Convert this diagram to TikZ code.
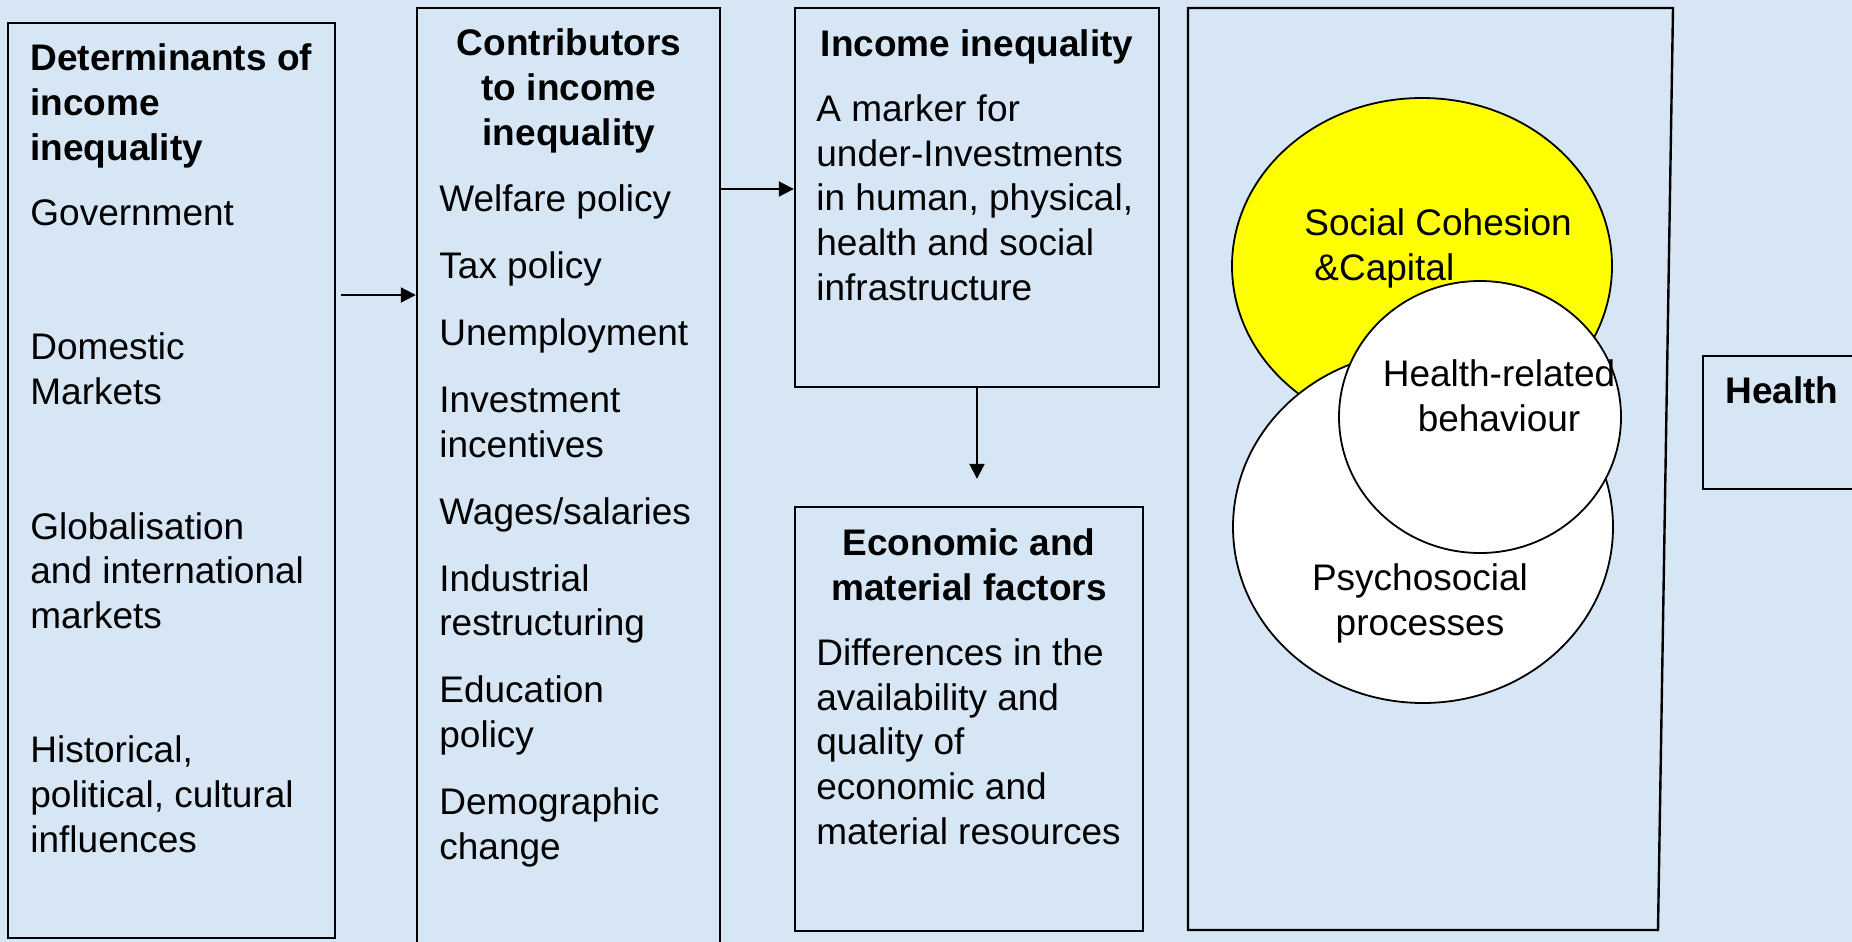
\documentclass[tikz,border=0pt]{standalone}
\usepackage{fontspec}
\setmainfont{Liberation Sans}
\usetikzlibrary{arrows.meta}
\definecolor{bgblue}{RGB}{215,230,245}
\definecolor{cohesionyellow}{RGB}{255,255,0}
\newcommand{\boxfont}{\fontsize{18.5pt}{22.3pt}\selectfont}

\begin{document}
\begin{tikzpicture}[x=0.5pt, y=-0.5pt]
    \tikzset{box/.style={draw, line width=1.2pt, inner sep=0pt},
        head/.style={font=\boxfont\bfseries, align=center, anchor=base, inner sep=0pt},
        body/.style={font=\boxfont, align=left, anchor=base west, inner sep=0pt},
        blob/.style={draw, line width=0.9pt},
        arr/.style={-{Triangle[length=7.5pt, width=7.5pt]}, line width=1pt}}
    \useasboundingbox (0,0) rectangle (1852,942);
    \clip (0,0) rectangle (1852,942);
    \fill[bgblue] (0,0) rectangle (1852,942);

    % the five columns
    \node[box, minimum width=163.5pt, minimum height=457.5pt] (determ) at (171.5,480.5) {};
    \node[box, minimum width=151.5pt, minimum height=471pt] (contrib) at (568.5,479) {};
    \node[box, minimum width=182pt, minimum height=189.5pt] (ineq) at (977,197.5) {};
    \node[box, minimum width=174pt, minimum height=212pt] (econ) at (969,719) {};
    \node[box, minimum width=88.5pt, minimum height=66.5pt] (health) at (1791.5,422.5) {};
    \draw[line width=1.2pt] (1188,8) -- (1673,8) -- (1658,930) -- (1188,930) -- cycle; % pathways

    % overlapping pathways
    \draw[blob, fill=cohesionyellow] (1422,266) ellipse [x radius=190, y radius=168]; % cohesion
    \draw[blob, fill=white] (1423,527) ellipse [x radius=190, y radius=176]; % psychosocial
    \draw[blob, fill=white] (1480,417) ellipse [x radius=141, y radius=136]; % behaviour

    % column texts (placed by their last baseline)
    \node[head, anchor=base west, align=left] (determhead) at (30,160) {Determinants of\\income\\inequality};
    \node[body] (determlist) at (30,852) {Government\\[45pt]Domestic\\Markets\\[45pt]Globalisation\\and international\\markets\\[45pt]Historical,\\political, cultural\\influences};
    \node[head] (contribhead) at (569,145) {Contributors\\to income\\inequality};
    \node[body] (contriblist) at (439,859) {Welfare policy\\[11.2pt]Tax policy\\[11.2pt]Unemployment\\[11.2pt]Investment\\incentives\\[11.2pt]Wages/salaries\\[11.2pt]Industrial\\restructuring\\[11.2pt]Education\\policy\\[11.2pt]Demographic\\change};
    \node[head] (ineqhead) at (977,56) {Income inequality};
    \node[body] (ineqtext) at (816,300) {A marker for\\under-Investments\\in human, physical,\\health and social\\infrastructure};
    \node[head] (econhead) at (969,600) {Economic and\\material factors};
    \node[body] (econtext) at (816,844) {Differences in the\\availability and\\quality of\\economic and\\material resources};
    \node[head, anchor=base west] (healthhead) at (1725,403) {Health};

    % labels in the circles
    \node[body] (cohesion) at (1304,280) {Social Cohesion\\\hspace{5pt}\&Capital};
    \node[body, anchor=base, align=center] (behaviour) at (1499,431) {Health-related\\behaviour};
    \node[body, anchor=base, align=center] (psycho) at (1420,635) {Psychosocial\\processes};

    % arrows
    \coordinate (a1) at (341,295);
    \coordinate (a2) at (720,189);
    \draw[arr] (a1) -- (a1 -| contrib.west);
    \draw[arr] (a2) -- (a2 -| ineq.west);
    \draw[arr, shorten >=13.5pt] (ineq.south) -- (ineq.south |- econ.north);
\end{tikzpicture}
\end{document}
